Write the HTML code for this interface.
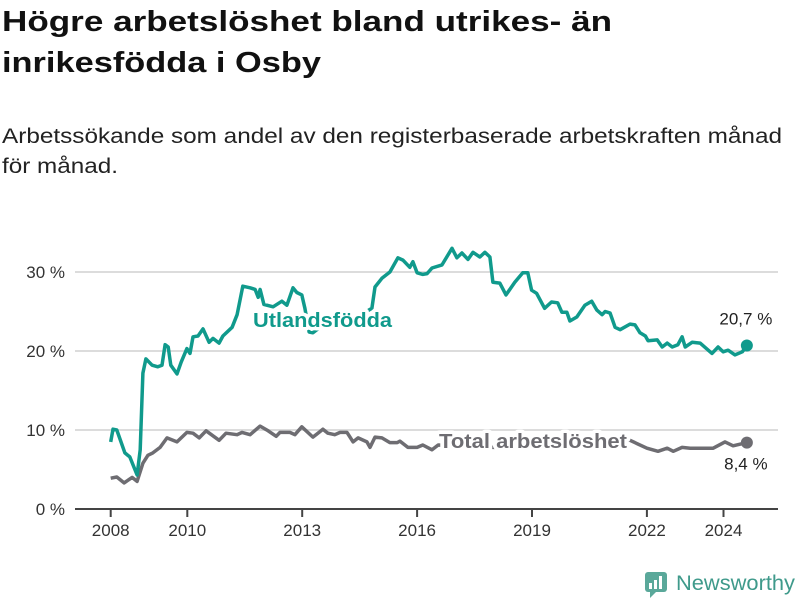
<!DOCTYPE html>
<html><head><meta charset="utf-8">
<style>
body{margin:0;background:#fff;}
svg{display:block;font-family:"Liberation Sans","DejaVu Sans",sans-serif;}
</style></head>
<body>
<svg id="chart" width="800" height="600" viewBox="0 0 800 600">
<text x="2" y="31" font-size="29" font-weight="bold" fill="#111" textLength="610" lengthAdjust="spacingAndGlyphs">Högre arbetslöshet bland utrikes- än</text>
<text x="2" y="72" font-size="29" font-weight="bold" fill="#111" textLength="319" lengthAdjust="spacingAndGlyphs">inrikesfödda i Osby</text>
<text x="2" y="143" font-size="21" fill="#222" textLength="780" lengthAdjust="spacingAndGlyphs">Arbetssökande som andel av den registerbaserade arbetskraften månad</text>
<text x="2" y="173" font-size="21" fill="#222" textLength="116" lengthAdjust="spacingAndGlyphs">för månad.</text>
<g id="grid"></g>
<g id="yticks"></g>
<g id="xticks"></g>
<g id="lines"></g>
<g id="labels"></g>
<g>
<rect x="645" y="572" width="22" height="20" rx="3" fill="#5aa89a"/>
<path d="M650 592 L650 598 L656 592 Z" fill="#5aa89a"/>
<rect x="649" y="583" width="3" height="6" fill="#fff"/><rect x="654" y="580" width="3" height="9" fill="#fff"/><rect x="659" y="576" width="3" height="13" fill="#fff"/>
<text x="676" y="590" font-size="21" fill="#3f9a8b" textLength="119" lengthAdjust="spacingAndGlyphs">Newsworthy</text>
</g>
</svg>
<script>
const yTicks=[0,10,20,30];
const xTickYears=[2008,2010,2013,2016,2019,2022,2024];
const foreignDates=[2008.0,2008.06,2008.16,2008.37,2008.5,2008.69,2008.77,2008.84,2008.92,2009.08,2009.23,2009.34,2009.42,2009.5,2009.57,2009.73,2009.84,2009.99,2010.07,2010.15,2010.28,2010.41,2010.57,2010.67,2010.83,2010.93,2011.17,2011.3,2011.45,2011.64,2011.77,2011.85,2011.9,2012.0,2012.24,2012.47,2012.6,2012.76,2012.86,2012.99,2013.07,2013.18,2013.28,2013.38,2013.72,2014.11,2014.51,2014.82,2014.9,2015.08,2015.29,2015.5,2015.63,2015.81,2015.89,2016.0,2016.15,2016.26,2016.39,2016.65,2016.91,2017.04,2017.17,2017.33,2017.46,2017.64,2017.77,2017.9,2017.98,2018.16,2018.32,2018.55,2018.76,2018.89,2018.99,2019.12,2019.33,2019.51,2019.67,2019.78,2019.91,2019.99,2020.17,2020.38,2020.56,2020.69,2020.83,2020.91,2021.04,2021.17,2021.3,2021.56,2021.69,2021.82,2021.96,2022.03,2022.27,2022.4,2022.53,2022.66,2022.81,2022.92,2023.0,2023.18,2023.39,2023.7,2023.86,2023.99,2024.12,2024.3,2024.49,2024.61];
const foreignValues=[8.5,10.1,10,7.1,6.6,4.3,7.5,17.2,19,18.2,18,18.2,20.8,20.5,18.2,17.1,18.6,20.3,19.7,21.8,21.9,22.8,21.1,21.6,21,21.9,23,24.6,28.2,28,27.8,26.8,27.8,25.9,25.6,26.3,25.8,28,27.4,27.1,25.4,22.4,22.3,22.7,23.5,24.0,24.5,25.4,28.1,29.2,30,31.8,31.5,30.6,31.3,29.9,29.7,29.8,30.5,30.9,33,31.8,32.4,31.6,32.5,31.9,32.5,31.9,28.7,28.6,27.1,28.7,29.9,29.9,27.7,27.3,25.4,26.2,26.1,24.9,24.9,23.8,24.3,25.8,26.3,25.2,24.6,25.0,24.8,23,22.7,23.4,23.3,22.3,21.9,21.3,21.4,20.5,21,20.5,20.8,21.8,20.5,21.1,21.0,19.7,20.5,19.9,20.1,19.5,19.9,20.7];
const totalDates=[2008.0,2008.16,2008.35,2008.56,2008.69,2008.84,2008.97,2009.1,2009.29,2009.47,2009.73,2009.99,2010.15,2010.31,2010.49,2010.83,2011.01,2011.3,2011.43,2011.64,2011.9,2012.11,2012.32,2012.42,2012.68,2012.81,2012.99,2013.28,2013.41,2013.54,2013.67,2013.85,2013.99,2014.17,2014.33,2014.46,2014.69,2014.77,2014.9,2015.08,2015.29,2015.48,2015.55,2015.76,2016.0,2016.15,2016.39,2016.55,2017.0,2018.0,2019.0,2020.3,2021.0,2021.56,2022.0,2022.29,2022.53,2022.69,2022.92,2023.13,2023.39,2023.73,2024.04,2024.25,2024.61];
const totalValues=[3.9,4.05,3.3,4.0,3.5,5.8,6.8,7.1,7.8,9.0,8.5,9.7,9.6,9.0,9.9,8.7,9.6,9.4,9.7,9.4,10.5,9.9,9.2,9.7,9.7,9.4,10.4,9.1,9.6,10.1,9.6,9.4,9.7,9.7,8.5,9.0,8.5,7.8,9.1,9.0,8.4,8.4,8.6,7.8,7.8,8.1,7.5,8.1,8.0,7.8,8.0,9.0,8.8,8.7,7.7,7.3,7.7,7.3,7.8,7.7,7.7,7.7,8.5,8.0,8.4];
const endLabels=["20,7 %","8,4 %"];

const NS="http://www.w3.org/2000/svg";
const X=t=>110.7+(t-2008)*38.3;
const Y=v=>509-v*7.9;
function mk(tag,attrs,parent){const e=document.createElementNS(NS,tag);for(const k in attrs)e.setAttribute(k,attrs[k]);parent.appendChild(e);return e;}
const grid=document.getElementById('grid'),yt=document.getElementById('yticks'),xt=document.getElementById('xticks'),lines=document.getElementById('lines'),labels=document.getElementById('labels');
yTicks.forEach(v=>{
  if(v>0){const g=mk('line',{x1:75,x2:778,y1:Y(v),y2:Y(v),stroke:'#dcdcdc','stroke-width':2},grid);
  
  }
  const t=mk('text',{x:65,y:Y(v)+6,'text-anchor':'end','font-size':17,fill:'#333'},yt);
  t.textContent=v+' %';
  
  
});
const ax=mk('line',{x1:75,x2:778,y1:509,y2:509,stroke:'#444','stroke-width':2},xt);


xTickYears.forEach(yr=>{
  const l=mk('line',{x1:X(yr),x2:X(yr),y1:509,y2:517,stroke:'#444','stroke-width':2},xt);
  
  
  const t=mk('text',{x:X(yr),y:536,'text-anchor':'middle','font-size':17,fill:'#333'},xt);
  t.textContent=yr;
  
  
});
function series(dates,vals,color,name){
  const d=dates.map((t,i)=>(i?'L':'M')+X(t).toFixed(1)+' '+Y(vals[i]).toFixed(1)).join(' ');
  const p=mk('path',{d:d,fill:'none',stroke:color,'stroke-width':3.5,'stroke-linejoin':'round'},lines);
  
  
  const n=dates.length-1;
  const c=mk('circle',{cx:X(dates[n]),cy:Y(vals[n]),r:6,fill:color},lines);
  
  
}
series(totalDates,totalValues,'#6e6d72','total');
series(foreignDates,foreignValues,'#109a8c','foreign-born');
function lbl(x,y,txt,col,name,w){
  const t=mk('text',{x:x,y:y,'font-size':20,'font-weight':'bold',fill:col,stroke:'#fff','stroke-width':7,'paint-order':'stroke','stroke-linejoin':'round',textLength:w,lengthAdjust:'spacingAndGlyphs'},labels);
  t.textContent=txt;
  
  
}
lbl(253,327,'Utlandsfödda','#109a8c','foreign-born-label',139);
lbl(439,448,'Total arbetslöshet','#6e6d72','total-label',188);
const fn=foreignDates.length-1,tn=totalDates.length-1;
const e1=mk('text',{x:X(foreignDates[fn])-1,y:Y(foreignValues[fn])-21,'text-anchor':'middle','font-size':17,fill:'#222'},labels);
e1.textContent=endLabels[0];


const e2=mk('text',{x:X(totalDates[tn])-1,y:Y(totalValues[tn])+27,'text-anchor':'middle','font-size':17,fill:'#222'},labels);
e2.textContent=endLabels[1];


</script>
</body></html>
